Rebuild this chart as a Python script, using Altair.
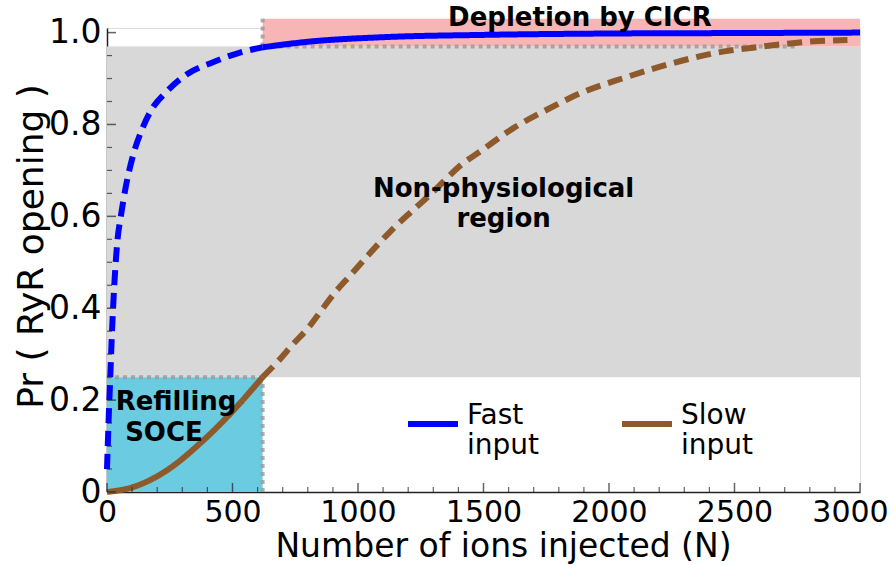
import altair as alt
import pandas as pd

# ---- data -------------------------------------------------------------
# Probability of RyR opening vs. number of ions injected
fast_n = [0, 6, 13, 20, 29, 42, 55, 75, 105, 140, 175, 235, 320, 420, 520, 620,
          800, 1100, 1500, 2000, 2500, 3000]
fast_pr = [0.05, 0.15, 0.25, 0.35, 0.45, 0.55, 0.60, 0.665, 0.735, 0.79, 0.83, 0.87,
           0.91, 0.935, 0.955, 0.968, 0.98, 0.99, 0.995, 0.998, 0.999, 1.0]

slow_n = [0, 105, 238, 371, 504, 620, 682, 740, 806, 855, 908, 970, 1030, 1090,
          1154, 1216, 1287, 1420, 1486, 1619, 1752, 1886, 2058, 2231, 2417, 2617,
          2816, 2950]
slow_pr = [0, 0.011, 0.047, 0.106, 0.178, 0.25, 0.285, 0.321, 0.36, 0.396, 0.434,
           0.472, 0.509, 0.545, 0.581, 0.612, 0.647, 0.716, 0.741, 0.792, 0.832,
           0.868, 0.901, 0.93, 0.955, 0.97, 0.981, 0.984]

series_names = ["Fast input", "Slow input"]
series_colors = ["#0000FF", "#8E5A2C"]

# physiological limit on N (solid / dashed switch)
n_limit = 620

# shaded regions
region_names = ["Non-physiological", "Refilling SOCE", "Depletion by CICR"]
region_x0 = [0, 0, 620]
region_x1 = [3000, 620, 3000]
region_y0 = [0.25, 0, 0.97]
region_y1 = [0.97, 0.25, 1.03]
region_colors = ["#D8D8D8", "#6BCBE0", "#F8B5B5"]

# dotted outlines of the regions
edge_x0 = [0, 620, 620, 620]
edge_x1 = [620, 620, 620, 2750]
edge_y0 = [0.25, 0, 0.97, 0.97]
edge_y1 = [0.25, 0.25, 1.03, 0.97]

# region labels
note_text = ["Depletion by CICR", "Non-physiological", "region", "Refilling", "SOCE"]
note_n = [1884, 1580, 1580, 275, 227]
note_pr = [1.014, 0.642, 0.577, 0.178, 0.111]

# axis ticks
x_major = [0, 500, 1000, 1500, 2000, 2500, 3000]
x_minor = [v for v in range(100, 3000, 100) if v % 500 != 0]
y_major = [0, 0.2, 0.4, 0.6, 0.8, 1.0]
y_minor = [round(0.05 * i, 2) for i in range(1, 20) if i % 4 != 0]

# ---- tables -----------------------------------------------------------
rows = []
for name, ns, ps in [(series_names[0], fast_n, fast_pr), (series_names[1], slow_n, slow_pr)]:
    for n, p in zip(ns, ps):
        if n <= n_limit:
            rows.append({"N": n, "Pr": p, "series": name, "part": "low"})
        if n >= n_limit:
            rows.append({"N": n, "Pr": p, "series": name, "part": "high"})
curves = pd.DataFrame(rows)
# fast input is dashed below the limit, slow input is dashed above it
curves["style"] = [
    ("dashed" if (r.series == "Fast input") == (r.part == "low") else "solid")
    for r in curves.itertuples()
]
curves["seg"] = curves["series"] + "-" + curves["part"]

regions = pd.DataFrame({"name": region_names, "x0": region_x0, "x1": region_x1,
                        "y0": region_y0, "y1": region_y1})
edges = pd.DataFrame({"x0": edge_x0, "x1": edge_x1, "y0": edge_y0, "y1": edge_y1})
notes = pd.DataFrame({"text": note_text, "N": note_n, "Pr": note_pr})

FONT = "DejaVu Sans"
xs = alt.Scale(domain=[0, 3000], nice=False, zero=False)
ys = alt.Scale(domain=[0, 1.01], nice=False, zero=False)

x_axis = alt.Axis(values=x_major, ticks=False, grid=False, labelFontSize=30,
                  labelFont=FONT, labelColor="black", labelPadding=5,
                  labelExpr="format(datum.value, 'd')",
                  # keep the last label inside the figure edge
                  labelOffset={"condition": {"test": "datum.value == 3000", "value": -10},
                               "value": 0},
                  domainColor="#222", domainWidth=1.5, title="Number of ions injected (N)",
                  titleFont=FONT, titleFontSize=33, titleFontWeight="normal",
                  titleColor="black", titleX=396, titleY=38, labelFlush=False)
y_axis = alt.Axis(values=y_major, ticks=False, grid=False, labelFontSize=33,
                  labelFont=FONT, labelColor="black", labelPadding=6,
                  labelExpr="datum.value == 0 ? '0' : format(datum.value, '.1f')",
                  domainColor="#222", domainWidth=1.5, title="Pr ( RyR opening )",
                  titleFont=FONT, titleFontSize=36, titleFontWeight="normal",
                  titleColor="black", titleX=-57, titleY=218, labelFlush=False)

base_regions = alt.Chart(regions).mark_rect().encode(
    x=alt.X("x0:Q", scale=xs, axis=x_axis),
    x2="x1:Q",
    y=alt.Y("y0:Q", scale=ys, axis=y_axis),
    y2="y1:Q",
    fill=alt.Fill("name:N", scale=alt.Scale(domain=region_names, range=region_colors),
                  legend=None),
)

outline = alt.Chart(edges).mark_rule(
    color="#999999", opacity=0.8, strokeWidth=4, strokeDash=[4, 4]
).encode(x=alt.X("x0:Q", scale=xs), x2="x1:Q", y=alt.Y("y0:Q", scale=ys), y2="y1:Q")

lines = alt.Chart(curves).mark_line(
    strokeWidth=6, strokeCap="butt", interpolate="monotone"
).encode(
    x=alt.X("N:Q", scale=xs),
    y=alt.Y("Pr:Q", scale=ys),
    color=alt.Color(
        "series:N",
        scale=alt.Scale(domain=series_names, range=series_colors),
        legend=alt.Legend(
            orient="none", legendX=298, legendY=368, direction="horizontal",
            title=None, symbolType="stroke", symbolSize=2500, symbolStrokeWidth=6,
            labelFont=FONT, labelFontSize=28, labelColor="black",
            labelBaseline="alphabetic",
            labelExpr="split(datum.label, ' ')", labelOffset=6, labelLimit=400,
            columnPadding=70,
        ),
    ),
    strokeDash=alt.StrokeDash(
        "style:N", scale=alt.Scale(domain=["solid", "dashed"], range=[[1, 0], [15, 8]]),
        legend=None,
    ),
    detail="seg:N",
    order="N:Q",
)

labels = alt.Chart(notes).mark_text(
    font=FONT, fontSize=26, fontWeight="bold", color="black", align="center",
    baseline="alphabetic"
).encode(x=alt.X("N:Q", scale=xs), y=alt.Y("Pr:Q", scale=ys), text="text:N")

xt_major = alt.Chart(pd.DataFrame({"v": x_major})).mark_tick(
    orient="vertical", size=9, thickness=1.5, color="#222", yOffset=-4.5
).encode(x=alt.X("v:Q", scale=xs), y=alt.datum(0, scale=ys))
xt_minor = alt.Chart(pd.DataFrame({"v": x_minor})).mark_tick(
    orient="vertical", size=5, thickness=1.2, color="#222", yOffset=-2.5
).encode(x=alt.X("v:Q", scale=xs), y=alt.datum(0, scale=ys))
yt_major = alt.Chart(pd.DataFrame({"v": y_major})).mark_tick(
    orient="horizontal", size=9, thickness=1.5, color="#222", xOffset=4.5
).encode(y=alt.Y("v:Q", scale=ys), x=alt.datum(0, scale=xs))
yt_minor = alt.Chart(pd.DataFrame({"v": y_minor})).mark_tick(
    orient="horizontal", size=5, thickness=1.2, color="#222", xOffset=2.5
).encode(y=alt.Y("v:Q", scale=ys), x=alt.datum(0, scale=xs))

chart = alt.layer(
    base_regions, outline, lines, labels, xt_major, xt_minor, yt_major, yt_minor
).properties(
    width=753, height=464,
    autosize=alt.AutoSizeParams(type="none"),
    padding={"left": 107, "top": 28, "right": 30, "bottom": 73},
).configure_view(stroke=None).configure(background="white")

chart.save("out.html", embed_options={"renderer": "svg", "actions": False})
